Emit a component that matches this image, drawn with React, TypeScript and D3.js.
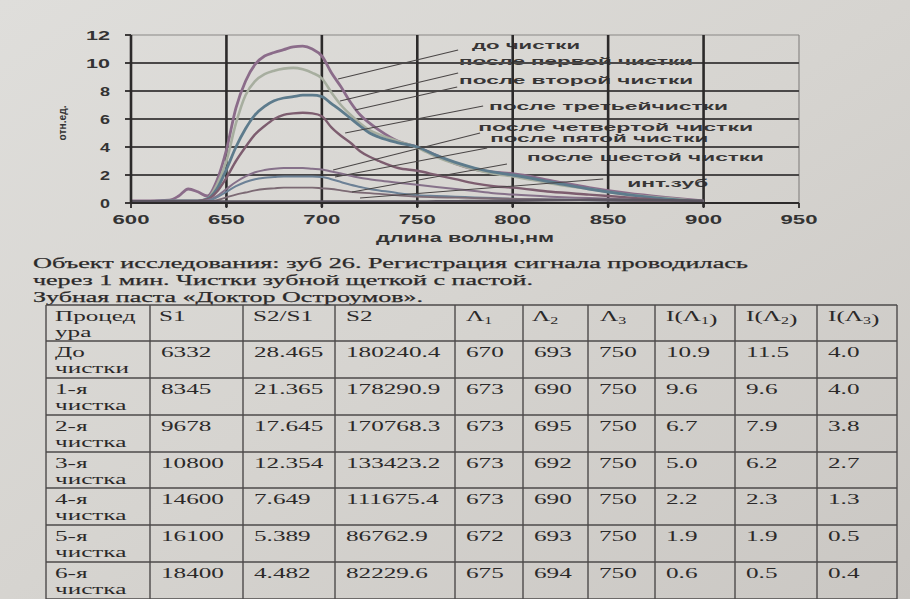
import React from 'react';
import * as d3 from 'd3';

// ---------------- DATA ----------------
const wavelengths = [600, 610, 620, 625, 630, 635, 640, 645, 650, 655, 660, 665, 670, 675, 680, 685, 690, 695, 700, 705, 710, 715, 720, 725, 730, 740, 750, 760, 770, 780, 790, 800, 820, 840, 860, 880, 900];

const seriesNames = ['до чистки', 'после первой чистки', 'после второй чистки', 'после третьейчистки', 'после четвертой чистки', 'после пятой чистки', 'после шестой чистки', 'инт.зуб'];

const valsBefore = [0.15, 0.15, 0.2, 0.5, 1.0, 0.8, 0.5, 1.6, 3.8, 6.8, 8.7, 9.9, 10.5, 10.75, 10.95, 11.15, 11.2, 11.0, 10.5, 9.3, 8.3, 7.2, 6.3, 5.7, 5.2, 4.4, 4.0, 3.4, 2.8, 2.4, 2.2, 2.1, 1.6, 1.1, 0.7, 0.4, 0.15];
const valsFirst = [0.1, 0.1, 0.15, 0.15, 0.15, 0.15, 0.3, 1.3, 3.0, 5.7, 7.7, 8.7, 9.2, 9.45, 9.6, 9.65, 9.55, 9.3, 8.9, 7.9, 7.0, 6.3, 5.7, 5.2, 4.9, 4.4, 3.95, 3.3, 2.8, 2.4, 2.1, 1.9, 1.4, 1.0, 0.6, 0.35, 0.1];
const valsSecond = [0.1, 0.1, 0.15, 0.15, 0.15, 0.15, 0.3, 1.0, 2.4, 4.0, 5.3, 6.3, 6.9, 7.3, 7.5, 7.6, 7.7, 7.7, 7.6, 7.1, 6.6, 6.05, 5.5, 5.0, 4.7, 4.3, 4.0, 3.4, 2.9, 2.5, 2.2, 2.0, 1.5, 1.0, 0.6, 0.3, 0.1];
const valsThird = [0.1, 0.1, 0.15, 0.15, 0.15, 0.15, 0.25, 0.8, 1.8, 3.0, 4.0, 4.9, 5.5, 6.0, 6.3, 6.4, 6.45, 6.4, 6.2, 5.4, 4.8, 4.3, 3.7, 3.3, 3.0, 2.5, 2.3, 2.0, 1.7, 1.4, 1.2, 1.1, 0.8, 0.6, 0.4, 0.2, 0.1];
const valsFourth = [0.1, 0.1, 0.1, 0.1, 0.1, 0.1, 0.2, 0.5, 1.0, 1.5, 1.9, 2.2, 2.35, 2.45, 2.5, 2.5, 2.5, 2.45, 2.4, 2.25, 2.1, 1.95, 1.8, 1.7, 1.6, 1.45, 1.3, 1.15, 1.0, 0.85, 0.7, 0.6, 0.45, 0.35, 0.25, 0.15, 0.05];
const valsFifth = [0.1, 0.1, 0.1, 0.1, 0.1, 0.1, 0.15, 0.4, 0.8, 1.2, 1.5, 1.7, 1.8, 1.85, 1.9, 1.9, 1.9, 1.9, 1.85, 1.7, 1.5, 1.3, 1.15, 1.0, 0.9, 0.7, 0.55, 0.5, 0.45, 0.4, 0.35, 0.3, 0.25, 0.2, 0.15, 0.1, 0.05];
const valsSixth = [0.05, 0.05, 0.05, 0.05, 0.05, 0.05, 0.1, 0.2, 0.4, 0.6, 0.75, 0.9, 1.0, 1.05, 1.1, 1.1, 1.1, 1.1, 1.05, 1.0, 0.9, 0.8, 0.75, 0.7, 0.65, 0.55, 0.45, 0.4, 0.38, 0.35, 0.32, 0.3, 0.25, 0.2, 0.15, 0.1, 0.05];
const valsIntact = [0.12, 0.12, 0.12, 0.12, 0.12, 0.12, 0.12, 0.12, 0.1, 0.1, 0.1, 0.1, 0.1, 0.1, 0.1, 0.1, 0.1, 0.1, 0.1, 0.1, 0.1, 0.1, 0.1, 0.1, 0.1, 0.1, 0.1, 0.12, 0.12, 0.14, 0.15, 0.16, 0.2, 0.22, 0.22, 0.2, 0.15];

const seriesValues = [valsBefore, valsFirst, valsSecond, valsThird, valsFourth, valsFifth, valsSixth, valsIntact];

const xTicks = [600, 650, 700, 750, 800, 850, 900, 950];
const yTicks = [0, 2, 4, 6, 8, 10, 12];

// callout anchors in data units (curve point -> label side)
const leaderFromX = [708.5, 709.5, 717.4, 712.2, 705.9, 706.9, 715.8, 720];
const leaderFromY = [8.86, 7.29, 6.64, 5.0, 2.36, 1.86, 0.79, 0.36];
const leaderToX = [771.4, 771.4, 770.9, 784.5, 782.9, 786.6, 797, 847.4];
const leaderToY = [10.93, 9.29, 8.29, 6.93, 5.0, 3.93, 2.79, 1.71];
const labelAtX = [778.7, 771.9, 771.9, 787.6, 781.9, 788.2, 807.5, 860];
const labelAtY = [11.29, 10.14, 8.79, 6.93, 5.43, 4.64, 3.29, 1.43];

// paragraph
const paragraphLines = [
  'Объект исследования: зуб 26. Регистрация сигнала проводилась',
  'через 1 мин. Чистки зубной щеткой с пастой.',
  'Зубная паста «Доктор Остроумов».',
];

// table
const procLine1 = ['До', '1-я', '2-я', '3-я', '4-я', '5-я', '6-я'];
const procLine2 = ['чистки', 'чистка', 'чистка', 'чистка', 'чистка', 'чистка', 'чистка'];
const colS1 = ['6332', '8345', '9678', '10800', '14600', '16100', '18400'];
const colS2S1 = ['28.465', '21.365', '17.645', '12.354', '7.649', '5.389', '4.482'];
const colS2 = ['180240.4', '178290.9', '170768.3', '133423.2', '111675.4', '86762.9', '82229.6'];
const colL1 = ['670', '673', '673', '673', '673', '672', '675'];
const colL2 = ['693', '690', '695', '692', '690', '693', '694'];
const colL3 = ['750', '750', '750', '750', '750', '750', '750'];
const colI1 = ['10.9', '9.6', '6.7', '5.0', '2.2', '1.9', '0.6'];
const colI2 = ['11.5', '9.6', '7.9', '6.2', '2.3', '1.9', '0.5'];
const colI3 = ['4.0', '4.0', '3.8', '2.7', '1.3', '0.5', '0.4'];

// ---------------- LAYOUT / STYLE ----------------
const W = 910;
const H = 599;
const seriesColors = ['#8b6c8a', '#a7ae9f', '#5d7b8c', '#7d5d6f', '#86718a', '#6c8196', '#7c6a74', '#5b5560'];
const seriesWidths = [2.8, 2.6, 2.8, 2.4, 2.0, 2.0, 1.8, 2.6];
const labelWidths = [108, 234, 234, 239, 275, 218, 237, 81];
const paragraphWidths = [715, 500, 390];
const colX = [46, 150, 243, 335, 455, 523, 588, 655, 735, 817, 897];
const rowY = [305, 341, 378, 415, 452, 488, 525, 562, 599];
const INK = '#2b2929';
const SERIF = '"Liberation Serif", "DejaVu Serif", serif';
const SANS = '"Liberation Sans", Arial, sans-serif';
const SX = 1.68;

function tickWidth(v: number) {
  const n = String(v).length;
  return n === 1 ? 10 : n === 2 ? 24 : 37;
}

function Cell({ x, y, children }: { x: number; y: number; children: React.ReactNode }) {
  return (
    <text transform={`translate(${x},${y}) scale(${SX},1)`} fontFamily={SERIF} fontSize={15} fill={INK}>
      {children}
    </text>
  );
}

function Lam({ i }: { i: number }) {
  return (
    <>
      <tspan>Λ</tspan>
      <tspan fontSize={9.5} dy={3}>{i}</tspan>
      <tspan dy={-3}>{''}</tspan>
    </>
  );
}

export default function App() {
  const x = d3.scaleLinear().domain([600, 950]).range([131, 799]);
  const y = d3.scaleLinear().domain([0, 12]).range([203, 35]);

  const line = d3
    .line<number>()
    .x((_, i) => x(wavelengths[i]))
    .y((d) => y(d))
    .curve(d3.curveMonotoneX);

  const tableCols = [colS1, colS2S1, colS2, colL1, colL2, colL3, colI1, colI2, colI3];

  return (
    <svg width={W} height={H} style={{ position: 'absolute', left: 0, top: 0 }}>
      <defs>
        <linearGradient id="paper" x1="0" y1="0" x2="1" y2="1">
          <stop offset="0" stopColor="#dfdedb" />
          <stop offset="0.5" stopColor="#d6d4d0" />
          <stop offset="1" stopColor="#cac7c3" />
        </linearGradient>
      </defs>
      <rect x={0} y={0} width={W} height={H} fill="url(#paper)" />

      {/* callout labels */}
      {seriesNames.map((name, i) => (
        <text
          key={'lab' + i}
          x={x(labelAtX[i])}
          y={y(labelAtY[i]) + 4}
          fontFamily={SANS}
          fontWeight="bold"
          fontSize={11.5}
          fill="#383636"
          textLength={labelWidths[i]}
          lengthAdjust="spacingAndGlyphs"
        >
          {name}
        </text>
      ))}

      {/* plot frame top/right */}
      <line x1={x(600)} x2={x(950)} y1={y(12)} y2={y(12)} stroke="#8a8886" strokeWidth={1.2} />
      <line x1={x(950)} x2={x(950)} y1={y(12)} y2={y(0)} stroke="#8a8886" strokeWidth={1.2} />

      {/* horizontal gridlines */}
      {yTicks.filter((t) => t > 0 && t < 12).map((t) => (
        <line key={'hg' + t} x1={x(600)} x2={x(950)} y1={y(t)} y2={y(t)} stroke="#4a4848" strokeWidth={1.8} />
      ))}
      {/* vertical gridlines */}
      {xTicks.filter((t) => t > 600 && t < 950).map((t) => (
        <line key={'vg' + t} x1={x(t)} x2={x(t)} y1={y(12)} y2={y(0) + 4} stroke="#2c2a2a" strokeWidth={2.6} />
      ))}

      {/* series */}
      {seriesValues.map((vals, i) => (
        <path key={'s' + i} d={line(vals) || ''} fill="none" stroke={seriesColors[i]} strokeWidth={seriesWidths[i]} strokeLinejoin="round" />
      ))}

      {/* leader lines */}
      {seriesNames.map((_, i) => (
        <line
          key={'ld' + i}
          x1={x(leaderFromX[i])}
          y1={y(leaderFromY[i])}
          x2={x(leaderToX[i])}
          y2={y(leaderToY[i])}
          stroke="#4a4646"
          strokeWidth={1.1}
        />
      ))}

      {/* axes */}
      <line x1={x(600)} x2={x(600)} y1={y(12)} y2={y(0)} stroke="#2c2a2a" strokeWidth={2.6} />
      <line x1={x(600)} x2={x(950)} y1={y(0)} y2={y(0)} stroke="#2c2a2a" strokeWidth={2.2} />
      {yTicks.map((t) => (
        <g key={'yt' + t}>
          <line x1={x(600) - 6} x2={x(600)} y1={y(t)} y2={y(t)} stroke="#2c2a2a" strokeWidth={1.8} />
          <text
            x={110}
            y={y(t) + 4.5}
            textAnchor="end"
            fontFamily={SANS}
            fontWeight="bold"
            fontSize={12.5}
            fill="#333"
            textLength={tickWidth(t)}
            lengthAdjust="spacingAndGlyphs"
          >
            {t}
          </text>
        </g>
      ))}
      {xTicks.map((t) => (
        <g key={'xt' + t}>
          <line x1={x(t)} x2={x(t)} y1={y(0)} y2={y(0) + 5} stroke="#2c2a2a" strokeWidth={1.8} />
          <text
            x={x(t)}
            y={224}
            textAnchor="middle"
            fontFamily={SANS}
            fontWeight="bold"
            fontSize={12.5}
            fill="#333"
            textLength={tickWidth(t)}
            lengthAdjust="spacingAndGlyphs"
          >
            {t}
          </text>
        </g>
      ))}
      <text
        x={(x(600) + x(950)) / 2}
        y={242}
        textAnchor="middle"
        fontFamily={SANS}
        fontWeight="bold"
        fontSize={12}
        fill="#333"
        textLength={178}
        lengthAdjust="spacingAndGlyphs"
      >
        длина волны,нм
      </text>
      <text
        transform={`translate(66,${(y(0) + y(12)) / 2 + 4}) rotate(-90)`}
        textAnchor="middle"
        fontFamily={SANS}
        fontWeight="bold"
        fontSize={10}
        fill="#333"
        textLength={35}
        lengthAdjust="spacingAndGlyphs"
      >
        отн.ед.
      </text>

      {/* paragraph */}
      {paragraphLines.map((t, i) => (
        <text
          key={'p' + i}
          x={33}
          y={268 + i * 16.8}
          fontFamily={SERIF}
          fontSize={15.5}
          fill={INK}
          stroke={INK}
          strokeWidth={0.25}
          textLength={paragraphWidths[i]}
          lengthAdjust="spacingAndGlyphs"
        >
          {t}
        </text>
      ))}

      {/* table grid */}
      <g stroke="#4d4a4a" strokeWidth={1.4}>
        {rowY.map((ry, i) => (
          <line key={'r' + i} x1={colX[0]} x2={colX[colX.length - 1]} y1={ry} y2={ry} />
        ))}
        {colX.map((cx, i) => (
          <line key={'c' + i} x1={cx} x2={cx} y1={rowY[0]} y2={rowY[rowY.length - 1]} />
        ))}
      </g>

      {/* header */}
      <Cell x={colX[0] + 9} y={rowY[0] + 16}>Процед</Cell>
      <Cell x={colX[0] + 9} y={rowY[0] + 32}>ура</Cell>
      <Cell x={colX[1] + 9} y={rowY[0] + 16}>S1</Cell>
      <Cell x={colX[2] + 10} y={rowY[0] + 16}>S2/S1</Cell>
      <Cell x={colX[3] + 11} y={rowY[0] + 16}>S2</Cell>
      <Cell x={colX[4] + 11} y={rowY[0] + 16}><Lam i={1} /></Cell>
      <Cell x={colX[5] + 9} y={rowY[0] + 16}><Lam i={2} /></Cell>
      <Cell x={colX[6] + 12} y={rowY[0] + 16}><Lam i={3} /></Cell>
      <Cell x={colX[7] + 11} y={rowY[0] + 16}>I(<Lam i={1} />)</Cell>
      <Cell x={colX[8] + 11} y={rowY[0] + 16}>I(<Lam i={2} />)</Cell>
      <Cell x={colX[9] + 11} y={rowY[0] + 16}>I(<Lam i={3} />)</Cell>

      {/* body */}
      {procLine1.map((p, r) => (
        <g key={'row' + r}>
          <Cell x={colX[0] + 9} y={rowY[r + 1] + 16}>{p}</Cell>
          <Cell x={colX[0] + 9} y={rowY[r + 1] + 32}>{procLine2[r]}</Cell>
          {tableCols.map((col, c) => (
            <Cell key={'v' + c} x={colX[c + 1] + 11} y={rowY[r + 1] + 16}>
              {col[r]}
            </Cell>
          ))}
        </g>
      ))}
    </svg>
  );
}
